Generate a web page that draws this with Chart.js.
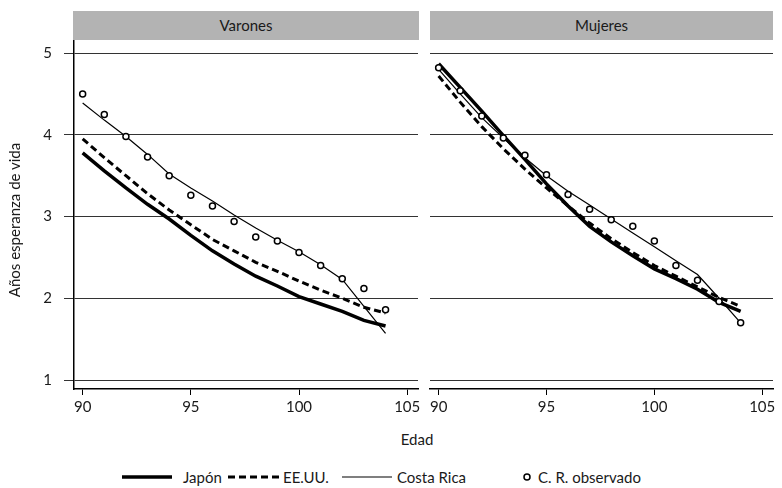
<!DOCTYPE html>
<html>
<head>
<meta charset="utf-8">
<script src="https://cdn.jsdelivr.net/npm/chart.js@4"></script>
<style>
body{margin:0;width:782px;height:488px;position:relative;background:#fff;font-family:Lato,sans-serif;color:#1a1a1a;overflow:hidden}
.strip{position:absolute;top:11px;height:29px;background:#b3b3b3;font-size:15px;line-height:29px;text-align:center}
.wrap{position:absolute;top:40px;height:385px}
#ylab{position:absolute;left:-136px;top:210px;width:300px;height:20px;line-height:20px;text-align:center;font-size:15px;transform:rotate(-90deg)}
#xlab{position:absolute;left:317px;top:430px;width:200px;text-align:center;font-size:15px}
.leg{position:absolute;top:467px;font-size:15px;line-height:20px}
#legsvg{position:absolute;left:0;top:465px}
</style>
</head>
<body>
<div class="strip" style="left:73px;width:346px">Varones</div>
<div class="strip" style="left:430px;width:343px">Mujeres</div>
<div class="wrap" style="left:0;width:420px"><canvas id="varones" width="420" height="385"></canvas></div>
<div class="wrap" style="left:420px;width:362px"><canvas id="mujeres" width="362" height="385"></canvas></div>
<div id="ylab">Años esperanza de vida</div>
<div id="xlab">Edad</div>
<svg id="legsvg" width="782" height="23">
	<line x1="122" y1="12" x2="172" y2="12" stroke="#000" stroke-width="3.5"/>
	<line x1="228" y1="12" x2="280" y2="12" stroke="#000" stroke-width="3" stroke-dasharray="7,4"/>
	<line x1="342" y1="12" x2="392" y2="12" stroke="#000" stroke-width="1.2"/>
	<circle cx="527" cy="12" r="3" fill="#fff" stroke="#000" stroke-width="1.5"/>
</svg>
<span class="leg" style="left:183px">Japón</span>
<span class="leg" style="left:283px">EE.UU.</span>
<span class="leg" style="left:397px">Costa Rica</span>
<span class="leg" style="left:538px">C. R. observado</span>
<script>
var ages = [90,91,92,93,94,95,96,97,98,99,100,101,102,103,104];
var xTicks = [90,95,100,105];
var yTicks = [1,2,3,4,5];

// Varones
var japonV = [3.78,3.56,3.35,3.15,2.97,2.77,2.58,2.42,2.27,2.15,2.02,1.93,1.84,1.73,1.66];
var eeuuV = [3.95,3.72,3.50,3.28,3.08,2.90,2.72,2.58,2.44,2.33,2.21,2.10,2.00,1.89,1.82];
var costaRicaV = [4.39,4.18,3.98,3.76,3.52,3.35,3.19,3.02,2.86,2.71,2.57,2.41,2.23,1.90,1.57];
var observadoV = [4.50,4.25,3.98,3.73,3.50,3.26,3.13,2.94,2.75,2.70,2.56,2.40,2.24,2.12,1.86];

// Mujeres
var japonM = [4.87,4.58,4.29,3.99,3.70,3.40,3.13,2.88,2.69,2.52,2.36,2.24,2.11,1.95,1.84];
var eeuuM = [4.72,4.40,4.10,3.83,3.58,3.35,3.13,2.92,2.73,2.56,2.40,2.27,2.14,2.01,1.90];
var costaRicaM = [4.80,4.50,4.21,3.96,3.72,3.50,3.31,3.14,2.97,2.80,2.63,2.46,2.29,2.00,1.70];
var observadoM = [4.82,4.54,4.23,3.96,3.75,3.51,3.27,3.09,2.96,2.88,2.70,2.40,2.22,1.96,1.70];

function pts(vals){
	return ages.map(function(a,i){ return {x:a, y:vals[i]}; });
}

function makeChart(id, japon, eeuu, cr, obs, isLeft){
	var datasets = [
		{label:'C. R. observado', data:pts(obs), showLine:false, pointRadius:3, pointBorderWidth:1.5,
			pointBackgroundColor:'#fff', pointBorderColor:'#000', order:0},
		{label:'Costa Rica', data:pts(cr), borderColor:'#000', borderWidth:1.2, pointRadius:0, order:1},
		{label:'EE.UU.', data:pts(eeuu), borderColor:'#000', borderWidth:3, borderDash:[7,4], pointRadius:0, order:2},
		{label:'Japón', data:pts(japon), borderColor:'#000', borderWidth:3.5, pointRadius:0, order:3}
	];
	return new Chart(document.getElementById(id), {
		type:'line',
		data:{datasets:datasets},
		options:{
			responsive:false,
			animation:false,
			devicePixelRatio:1,
			layout:{autoPadding:false, padding:{left:0, right:isLeft?2:9, top:0, bottom:0}},
			plugins:{legend:{display:false}, tooltip:{enabled:false}},
			scales:{
				x:{
					type:'linear', min:89.6, max:105.5,
					afterFit:function(s){ s.height = 36; s.paddingLeft = 0; s.paddingRight = 0; },
					ticks:{stepSize:xTicks[1]-xTicks[0], includeBounds:false, color:'#1a1a1a',
						font:{family:'Lato', size:15}, padding:3, maxRotation:0, autoSkip:false},
					grid:{drawOnChartArea:false, color:'#000', tickLength:6, lineWidth:1},
					border:{color:'#000', width:1.5}
				},
				y:{
					type:'linear', min:0.89, max:5.16,
					afterFit:function(s){ s.width = isLeft ? 74 : 10; s.paddingTop = 0; s.paddingBottom = 0; },
					ticks:{stepSize:yTicks[1]-yTicks[0], includeBounds:false, display:isLeft, color:'#1a1a1a',
						font:{family:'Lato', size:15}, padding:12, autoSkip:false},
					grid:{color:'#333', lineWidth:1, drawTicks:isLeft, tickLength:10},
					border:{display:isLeft, color:'#000', width:1.5}
				}
			}
		}
	});
}

makeChart('varones', japonV, eeuuV, costaRicaV, observadoV, true);
makeChart('mujeres', japonM, eeuuM, costaRicaM, observadoM, false);
</script>
</body>
</html>
